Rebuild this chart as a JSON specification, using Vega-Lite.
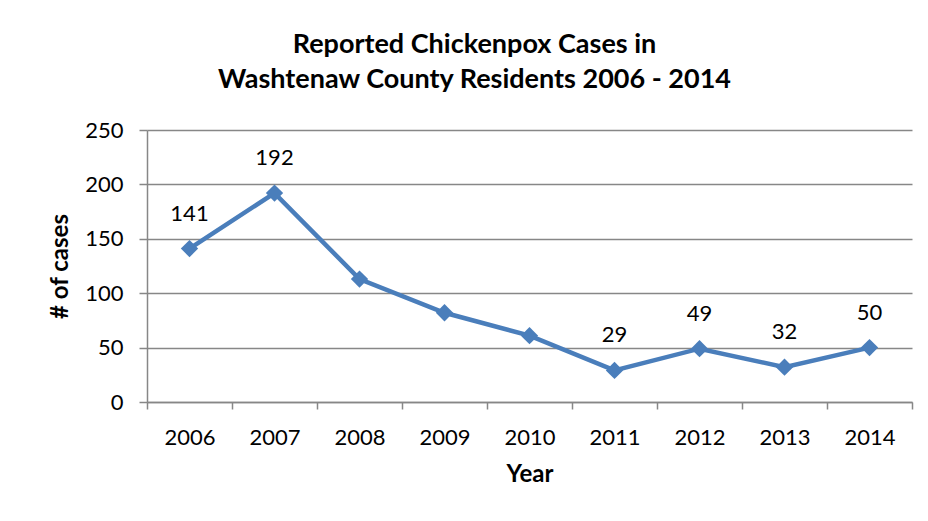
{
  "$schema": "https://vega.github.io/schema/vega-lite/v6.json",
  "width": 765,
  "height": 272,
  "autosize": {"type": "none"},
  "padding": {"left": 147, "top": 130, "right": 16, "bottom": 119},
  "background": "white",
  "title": {
    "text": ["Reported Chickenpox Cases in", "Washtenaw County Residents 2006 - 2014"],
    "font": "Lato",
    "fontSize": 27,
    "fontWeight": "bold",
    "color": "#000000",
    "lineHeight": 35,
    "anchor": "middle",
    "dx": -55,
    "offset": 25
  },
  "data": {
    "values": [
      {"year": "2006", "cases": 141},
      {"year": "2007", "cases": 192},
      {"year": "2008", "cases": 113},
      {"year": "2009", "cases": 82},
      {"year": "2010", "cases": 61},
      {"year": "2011", "cases": 29},
      {"year": "2012", "cases": 49},
      {"year": "2013", "cases": 32},
      {"year": "2014", "cases": 50}
    ]
  },
  "config": {
    "view": {"stroke": null},
    "axis": {
      "labelFont": "Lato",
      "labelFontSize": 22,
      "labelColor": "#000000",
      "titleFont": "Lato",
      "titleFontSize": 24,
      "titleFontWeight": "bold",
      "titleColor": "#000000",
      "domainColor": "#878787",
      "domainWidth": 1.5,
      "tickColor": "#878787",
      "tickWidth": 1.5,
      "gridColor": "#878787",
      "gridWidth": 1.5
    }
  },
  "encoding": {
    "x": {
      "field": "year",
      "type": "ordinal",
      "bandPosition": 0.5,
      "scale": {"type": "band", "paddingInner": 0, "paddingOuter": 0},
      "axis": {
        "title": "Year",
        "labelAngle": 0,
        "tickBand": "extent",
        "tickSize": 7,
        "labelPadding": 18,
        "titlePadding": 14,
        "grid": false
      }
    },
    "y": {
      "field": "cases",
      "type": "quantitative",
      "scale": {"domain": [0, 250]},
      "axis": {
        "title": "# of cases",
        "values": [0, 50, 100, 150, 200, 250],
        "tickSize": 8,
        "labelPadding": 16,
        "titlePadding": 12,
        "grid": true
      }
    }
  },
  "layer": [
    {
      "mark": {"type": "line", "color": "#4A7EBB", "strokeWidth": 4.5, "point": {"shape": "diamond", "size": 300, "filled": true, "color": "#4A7EBB"}}
    },
    {
      "transform": [{"filter": "indexof(['2006','2007','2011','2012','2013','2014'], datum.year) >= 0"}],
      "mark": {"type": "text", "font": "Lato", "fontSize": 22, "color": "#000000", "baseline": "bottom", "dy": -23},
      "encoding": {"text": {"field": "cases", "type": "quantitative"}}
    }
  ]
}
